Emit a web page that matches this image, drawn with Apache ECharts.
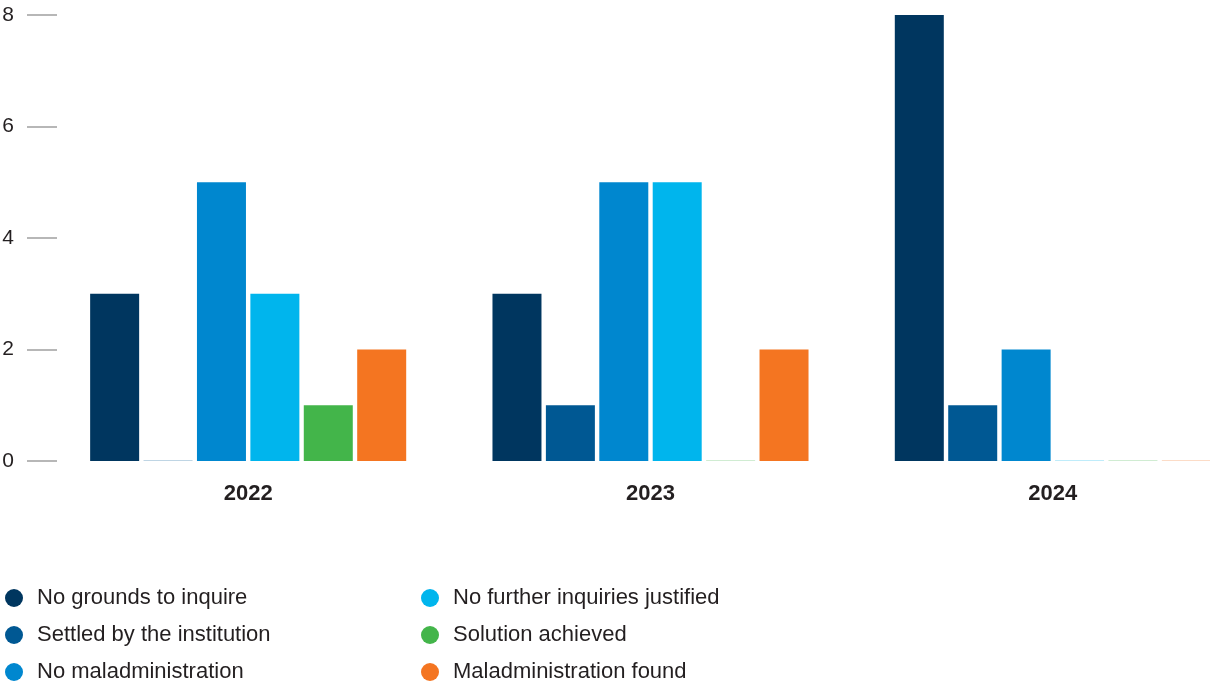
<!DOCTYPE html>
<html>
<head>
<meta charset="utf-8">
<script src="https://cdn.jsdelivr.net/npm/echarts@6/dist/echarts.min.js"></script>
<style>
  html, body { margin: 0; padding: 0; background: #fff; }
  #chart { width: 1210px; height: 686px; }
</style>
</head>
<body>
<div id="chart"></div>
<script>
// Inquiry outcomes per year
const years = ['2022', '2023', '2024'];
const seriesNames = [
  'No grounds to inquire',
  'Settled by the institution',
  'No maladministration',
  'No further inquiries justified',
  'Solution achieved',
  'Maladministration found'
];
const noGrounds        = [3, 3, 8];
const settled          = [0, 1, 1];
const noMaladmin       = [5, 5, 2];
const noFurther        = [3, 5, 0];
const solution         = [1, 0, 0];
const maladminFound    = [2, 2, 0];
const yTicks = [0, 2, 4, 6, 8];

const colors = ['#00365f', '#005893', '#0087cf', '#00b5ed', '#43b54a', '#f47521'];
const valueSets = [noGrounds, settled, noMaladmin, noFurther, solution, maladminFound];

const font = '"Liberation Sans", Arial, sans-serif';
const textColor = '#231f20';

// zero values show as a faint hairline on the baseline
function toData(values) {
  return values.map(v => v === 0 ? { value: 0, itemStyle: { opacity: 0.25 } } : v);
}

const series = seriesNames.map((name, i) => ({
  name: name,
  type: 'bar',
  data: toData(valueSets[i]),
  barWidth: 49,
  barGap: '9%',
  barMinHeight: 1,
  itemStyle: { color: colors[i] },
  emphasis: { disabled: true }
}));

const legendCommon = {
  orient: 'vertical',
  icon: 'circle',
  padding: 0,
  itemWidth: 18,
  itemHeight: 18,
  itemGap: 15,
  top: 587,
  textStyle: {
    fontFamily: font,
    fontSize: 22,
    color: textColor,
    padding: [0, 0, 0, 9]
  }
};

const chart = echarts.init(document.getElementById('chart'), null, { renderer: 'canvas' });
chart.setOption({
  animation: false,
  color: colors,
  textStyle: { fontFamily: font },
  // the last category band runs slightly past the right edge of the canvas
  grid: {
    left: 47, right: -44, top: 15, bottom: 225,
    containLabel: false,
    outerBoundsMode: 'none'
  },
  legend: [
    Object.assign({}, legendCommon, { left: 5, data: seriesNames.slice(0, 3) }),
    Object.assign({}, legendCommon, { left: 421, data: seriesNames.slice(3) })
  ],
  xAxis: {
    type: 'category',
    data: years,
    axisLine: { show: false },
    axisTick: { show: false },
    axisLabel: {
      fontFamily: font,
      fontSize: 22,
      fontWeight: 'bold',
      color: textColor,
      margin: 22
    }
  },
  yAxis: {
    type: 'value',
    min: yTicks[0],
    max: yTicks[yTicks.length - 1],
    interval: 2,
    offset: -10,
    axisLine: { show: false },
    axisTick: { show: true, length: 30, lineStyle: { color: '#a0a0a0', width: 1.5 } },
    splitLine: { show: false },
    axisLabel: {
      fontFamily: font,
      fontSize: 21,
      color: textColor,
      margin: 43
    }
  },
  series: series
});
</script>
</body>
</html>
